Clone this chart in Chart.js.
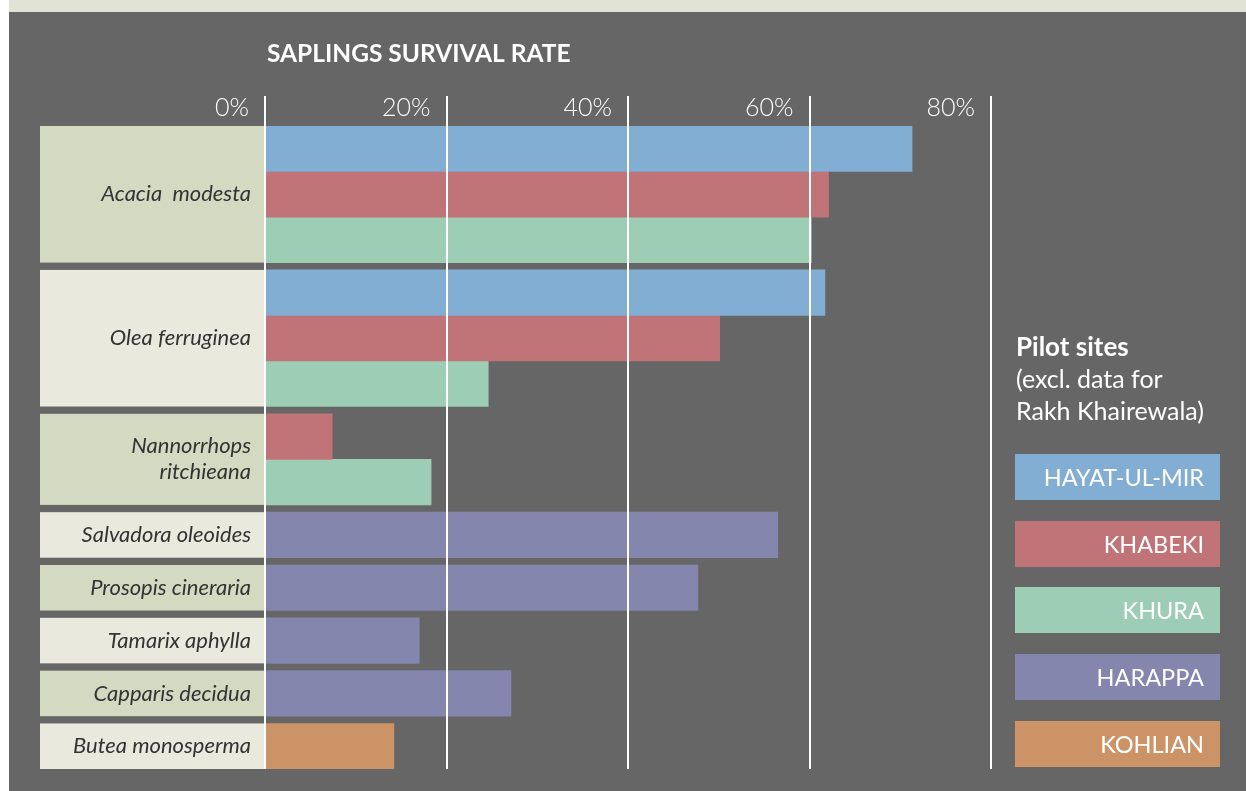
<!DOCTYPE html>
<html>
<head>
<meta charset="utf-8">
<script src="https://cdn.jsdelivr.net/npm/chart.js@4/dist/chart.umd.min.js"></script>
<style>
html,body{margin:0;padding:0;background:#ffffff;}
#wrap{width:1246px;height:791px;position:relative;}
canvas{display:block;}
</style>
</head>
<body>
<div id="wrap"><canvas id="c" width="1246" height="791"></canvas></div>
<script>
// ---- data ----
const species = ['Acacia  modesta', 'Olea ferruginea', ['Nannorrhops', 'ritchieana'], 'Salvadora oleoides', 'Prosopis cineraria', 'Tamarix aphylla', 'Capparis decidua', 'Butea monosperma'];
const sites = ['HAYAT-UL-MIR', 'KHABEKI', 'KHURA', 'HARAPPA', 'KOHLIAN'];
const hayatUlMir = [71.3, 61.7, null, null, null, null, null, null];
const khabeki    = [62.1, 50.1, 7.4, null, null, null, null, null];
const khura      = [60.2, 24.6, 18.3, null, null, null, null, null];
const harappa    = [null, null, null, 56.5, 47.7, 17.0, 27.1, null];
const kohlian    = [null, null, null, null, null, null, null, 14.2];
const xTicks = [0, 20, 40, 60, 80];
const tickLabels = ['0%', '20%', '40%', '60%', '80%'];
const chartTitle = 'SAPLINGS SURVIVAL RATE';
const legendTitle = ['Pilot sites', '(excl. data for', 'Rakh Khairewala)'];

// ---- styles ----
const siteColors = ['#82aed3', '#c07477', '#9ecdb6', '#8486ae', '#cc9367'];
const GAP = 0.16;

// ---- build rows ----
const seriesValues = [hayatUlMir, khabeki, khura, harappa, kohlian];
const seriesData = seriesValues.map(() => []);
const groups = [];
let cursor = 0;
species.forEach((sp, i) => {
  const start = cursor;
  let k = 0;
  seriesValues.forEach((vals, s) => {
    if (vals[i] != null) {
      seriesData[s].push({ x: vals[i], y: cursor + k + 0.5 });
      k++;
    }
  });
  cursor += k;
  groups.push({ start: start, end: cursor, label: sp });
  cursor += GAP;
});
const totalRows = cursor - GAP;

const datasets = sites.map((name, s) => ({
  label: name,
  data: seriesData[s],
  backgroundColor: siteColors[s],
  borderWidth: 0,
  grouped: false,
  barPercentage: 1,
  categoryPercentage: 1
}));

const FONT = 'Lato, "Noto Sans", sans-serif';

const decor = {
  id: 'decor',
  beforeDraw(chart) {
    const ctx = chart.ctx;
    ctx.save();
    ctx.fillStyle = '#ffffff';
    ctx.fillRect(0, 0, chart.width, chart.height);
    ctx.fillStyle = '#e1e4d5';
    ctx.fillRect(9, 0, chart.width - 9, 12);
    ctx.fillStyle = '#666666';
    ctx.fillRect(9, 12, chart.width - 9, chart.height - 12);
    ctx.restore();
  },
  beforeDatasetsDraw(chart) {
    const ctx = chart.ctx;
    const xs = chart.scales.x, ys = chart.scales.y;
    const x0 = xs.getPixelForValue(0);
    ctx.save();
    groups.forEach((g, i) => {
      const top = ys.getPixelForValue(g.start);
      const bot = ys.getPixelForValue(g.end);
      ctx.fillStyle = i % 2 === 0 ? '#d4d9c2' : '#e9eadd';
      ctx.fillRect(40, top, x0 - 40, bot - top);
      ctx.fillStyle = '#333333';
      ctx.font = 'italic 22px ' + FONT;
      ctx.textAlign = 'right';
      ctx.textBaseline = 'middle';
      const lines = Array.isArray(g.label) ? g.label : [g.label];
      const mid = (top + bot) / 2;
      const lh = 26;
      lines.forEach((ln, j) => {
        ctx.fillText(ln, 251, mid + (j - (lines.length - 1) / 2) * lh);
      });
    });
    ctx.restore();
  },
  afterDatasetsDraw(chart) {
    const ctx = chart.ctx;
    const xs = chart.scales.x;
    const area = chart.chartArea;
    ctx.save();
    // grid lines
    ctx.strokeStyle = '#ffffff';
    ctx.lineWidth = 2;
    xTicks.forEach(v => {
      const px = Math.round(xs.getPixelForValue(v));
      ctx.beginPath();
      ctx.moveTo(px, 96);
      ctx.lineTo(px, area.bottom);
      ctx.stroke();
    });
    // tick labels
    ctx.fillStyle = '#ffffff';
    ctx.font = '300 25px ' + FONT;
    ctx.textAlign = 'right';
    ctx.textBaseline = 'alphabetic';
    xTicks.forEach((v, i) => {
      ctx.fillText(tickLabels[i], xs.getPixelForValue(v) - 16, 116);
    });
    // title
    ctx.font = 'bold 24.5px ' + FONT;
    ctx.textAlign = 'left';
    ctx.fillText(chartTitle, 267, 62);
    // legend title
    ctx.font = 'bold 26px ' + FONT;
    ctx.fillText(legendTitle[0], 1016, 356);
    ctx.font = '25px ' + FONT;
    ctx.fillText(legendTitle[1], 1016, 388);
    ctx.fillText(legendTitle[2], 1016, 420);
    // legend boxes
    const tops = [454, 521, 587, 654, 721];
    sites.forEach((name, s) => {
      ctx.fillStyle = siteColors[s];
      ctx.fillRect(1015, tops[s], 205, 46);
      ctx.fillStyle = '#ffffff';
      ctx.font = '23.5px ' + FONT;
      ctx.textAlign = 'right';
      ctx.textBaseline = 'middle';
      ctx.fillText(name, 1204, tops[s] + 24);
    });
    ctx.restore();
  }
};

new Chart(document.getElementById('c'), {
  type: 'bar',
  data: { datasets: datasets },
  options: {
    indexAxis: 'y',
    responsive: false,
    animation: false,
    layout: { padding: { left: 265, right: 255, top: 126, bottom: 22 } },
    scales: {
      x: { type: 'linear', min: 0, max: 80, display: false },
      y: { type: 'linear', min: 0, max: totalRows, reverse: true, display: false, offset: false, ticks: { stepSize: 1 } }
    },
    plugins: { legend: { display: false }, tooltip: { enabled: false } }
  },
  plugins: [decor]
});
</script>
</body>
</html>
